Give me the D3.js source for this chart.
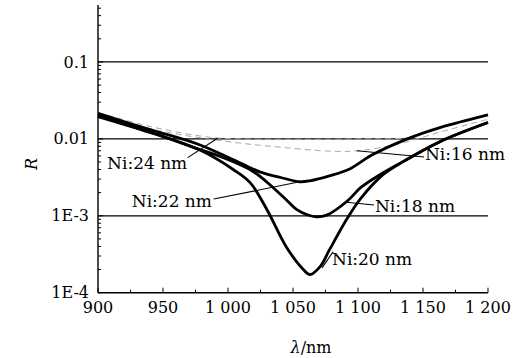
<!DOCTYPE html>
<html>
<head>
<meta charset="utf-8">
<script src="https://cdn.jsdelivr.net/npm/d3@7"></script>
<style>
  body { margin: 0; background: #fff; }
</style>
</head>
<body>
<div id="chart"></div>
<script>
// [wavelength nm, reflectance]
const ni20 = [[900, 0.0195], [940, 0.0121], [978, 0.0072], [1004, 0.0040], [1017, 0.0027], [1030, 0.0012],
  [1045, 0.00039], [1058, 0.00020], [1063, 0.000172], [1071, 0.00022], [1078, 0.00036], [1092, 0.00094],
  [1102, 0.00167], [1119, 0.0034], [1135, 0.0051], [1163, 0.0092], [1200, 0.0163]];
const ni18 = [[900, 0.0201], [940, 0.0123], [978, 0.0073], [994, 0.0059], [1019, 0.0038], [1035, 0.0023],
  [1045, 0.0016], [1053, 0.0012], [1061, 0.00103], [1068, 0.00097], [1076, 0.00102], [1092, 0.00157],
  [1102, 0.00232], [1119, 0.0036], [1135, 0.0051], [1163, 0.0092], [1200, 0.0163]];
const ni22 = [[900, 0.0214], [940, 0.0132], [978, 0.0084], [1009, 0.0049], [1025, 0.0037], [1042, 0.0031],
  [1055, 0.00277], [1063, 0.00285], [1078, 0.0033], [1094, 0.0041], [1111, 0.0062], [1138, 0.0100],
  [1163, 0.0140], [1200, 0.0205]];
// these two are barely visible in the scan
const ni24 = [[900, 0.022], [940, 0.0145], [980, 0.0108], [1000, 0.0101], [1050, 0.0099], [1100, 0.0100],
  [1140, 0.0105], [1163, 0.0140], [1200, 0.021]];
const ni16 = [[900, 0.0205], [950, 0.0125], [1000, 0.0092], [1040, 0.0078], [1080, 0.0069], [1100, 0.0070],
  [1130, 0.0085], [1165, 0.0125], [1200, 0.018]];

const xTicks = [900, 950, 1000, 1050, 1100, 1150, 1200];
const xTickLabels = ["900", "950", "1 000", "1 050", "1 100", "1 150", "1 200"];
const yTicks = [1e-4, 1e-3, 0.01, 0.1];
const yTickLabels = ["1E-4", "1E-3", "0.01", "0.1"];

// label: [lambda, R] of text start; leader from -> to
const labels = [
  { text: "Ni:24 nm", at: [907, 0.0041], from: [969, 0.0057], to: [992, 0.0102] },
  { text: "Ni:22 nm", at: [926, 0.0013], from: [989, 0.00165], to: [1059, 0.00285] },
  { text: "Ni:16 nm", at: [1151.5, 0.0053], from: [1150.8, 0.0058], to: [1099, 0.0070] },
  { text: "Ni:18 nm", at: [1113, 0.00112], from: [1112.3, 0.00138], to: [1091, 0.0015] },
  { text: "Ni:20 nm", at: [1080, 0.00023], from: [1080.8, 0.00034], to: [1072.3, 0.00021] }
];

const w = 513, h = 358;
const padL = 98, padR = 488, padT = 5, padB = 292.7;
const serif = "DejaVu Serif";

const svg = d3.select("#chart").append("svg")
  .attr("width", w)
  .attr("height", h)
  .attr("font-family", serif);

const x = d3.scaleLinear().domain([900, 1200]).range([padL, padR]);
const y = d3.scaleLog().domain([1e-4, 0.55]).range([padB, padT]);

// grid lines at the decades
svg.append("g")
  .selectAll("line")
  .data([1e-3, 0.01, 0.1])
  .enter()
  .append("line")
  .attr("x1", padL)
  .attr("x2", padR)
  .attr("y1", d => y(d))
  .attr("y2", d => y(d))
  .attr("stroke", "#000")
  .attr("stroke-width", 1.2);

// y axis, ticks pointing inward
const yMinor = y.ticks().filter(d => d <= 0.55);
const yAxis = svg.append("g");
yAxis.append("line")
  .attr("x1", padL).attr("x2", padL)
  .attr("y1", padT).attr("y2", padB)
  .attr("stroke", "#000").attr("stroke-width", 1.4);
yAxis.selectAll(".tick")
  .data(yMinor)
  .enter()
  .append("line")
  .attr("x1", padL)
  .attr("x2", d => padL + (yTicks.some(t => Math.abs(t - d) / t < 1e-6) ? 5 : 3))
  .attr("y1", d => y(d))
  .attr("y2", d => y(d))
  .attr("stroke", "#000");
yAxis.selectAll("text")
  .data(yTicks)
  .enter()
  .append("text")
  .text((d, i) => yTickLabels[i])
  .attr("x", padL - 9)
  .attr("y", d => y(d))
  .attr("dy", "0.35em")
  .attr("text-anchor", "end")
  .attr("font-size", 16);

// x axis, ticks pointing up
const xAxis = svg.append("g");
xAxis.append("line")
  .attr("x1", padL).attr("x2", padR)
  .attr("y1", padB).attr("y2", padB)
  .attr("stroke", "#000").attr("stroke-width", 1.4);
xAxis.selectAll(".tick")
  .data(d3.range(900, 1201, 25))
  .enter()
  .append("line")
  .attr("x1", d => x(d))
  .attr("x2", d => x(d))
  .attr("y1", padB)
  .attr("y2", d => padB - (d % 50 === 0 ? 5 : 3))
  .attr("stroke", "#000");
xAxis.selectAll("text")
  .data(xTicks)
  .enter()
  .append("text")
  .text((d, i) => xTickLabels[i])
  .attr("x", d => x(d))
  .attr("y", 313)
  .attr("text-anchor", "middle")
  .attr("font-size", 16);

// axis titles
svg.append("text")
  .text("R")
  .attr("transform", "translate(37,164) rotate(-90)")
  .attr("text-anchor", "middle")
  .attr("font-style", "italic")
  .attr("font-size", 16);

const xt = svg.append("text")
  .attr("x", 311)
  .attr("y", 353)
  .attr("text-anchor", "middle")
  .attr("font-size", 16);
xt.append("tspan").attr("font-style", "italic").text("λ");
xt.append("tspan").text("/nm");

// curves
const line = d3.line()
  .x(d => x(d[0]))
  .y(d => y(d[1]))
  .curve(d3.curveCatmullRom.alpha(0.5));

svg.append("g")
  .selectAll("path")
  .data([ni24, ni16])
  .enter()
  .append("path")
  .attr("d", line)
  .attr("fill", "none")
  .attr("stroke", "#aaa")
  .attr("stroke-width", 1)
  .attr("stroke-dasharray", "6,4");

svg.append("g")
  .selectAll("path")
  .data([ni22, ni18, ni20])
  .enter()
  .append("path")
  .attr("d", line)
  .attr("fill", "none")
  .attr("stroke", "#000")
  .attr("stroke-width", 2.8)
  .attr("stroke-linejoin", "round");

// labels with leader lines
const lab = svg.append("g").selectAll("g")
  .data(labels)
  .enter()
  .append("g");

lab.append("line")
  .attr("x1", d => x(d.from[0]))
  .attr("y1", d => y(d.from[1]))
  .attr("x2", d => x(d.to[0]))
  .attr("y2", d => y(d.to[1]))
  .attr("stroke", "#000")
  .attr("stroke-width", 1.1);

lab.append("text")
  .text(d => d.text)
  .attr("x", d => x(d.at[0]))
  .attr("y", d => y(d.at[1]))
  .attr("font-size", 17);
</script>
</body>
</html>
